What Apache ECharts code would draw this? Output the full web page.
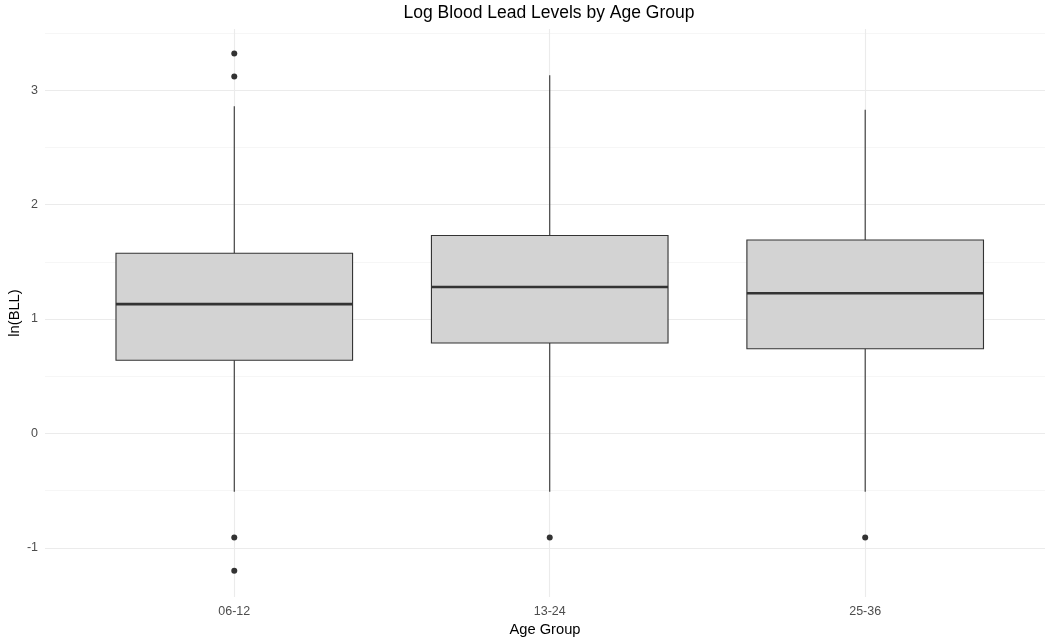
<!DOCTYPE html>
<html>
<head>
<meta charset="utf-8">
<script src="https://cdn.jsdelivr.net/npm/echarts@6/dist/echarts.min.js"></script>
<style>
  html, body { margin: 0; padding: 0; background: #fff; }
  #chart { width: 1045px; height: 640px; }
</style>
</head>
<body>
<div id="chart"></div>
<script>
  // age groups sit at x = 1, 2, 3 on a value axis so the panel can run edge to edge
  const groups = ['06-12', '13-24', '25-36']
  const lowerWhisker = [-0.51, -0.51, -0.51]
  const q1 = [0.64, 0.79, 0.74]
  const median = [1.13, 1.28, 1.225]
  const q3 = [1.575, 1.73, 1.69]
  const upperWhisker = [2.86, 3.13, 2.83]
  // outliers: [group position, value]
  const outliers = [
    [1, 3.32], [1, 3.12], [1, -0.91], [1, -1.20],
    [2, -0.91],
    [3, -0.91],
  ]
  const yMajorTicks = [-1, 0, 1, 2, 3]
  const yMinorTicks = [-0.5, 0.5, 1.5, 2.5, 3.5]

  const boxData = groups.map((g, i) => [
    i + 1, lowerWhisker[i], q1[i], median[i], q3[i], upperWhisker[i],
  ])

  const textFont = 'Liberation Sans, Arial, sans-serif'
  const ink = '#333333'

  const chart = echarts.init(document.getElementById('chart'))

  const option = {
    backgroundColor: '#ffffff',
    animation: false,
    title: {
      text: 'Log Blood Lead Levels by Age Group',
      left: 549,
      top: 4,
      padding: 0,
      textAlign: 'center',
      textStyle: {
        color: '#000000',
        fontFamily: textFont,
        fontWeight: 'normal',
        fontSize: 17.5,
      },
    },
    grid: {
      left: 45,
      right: 0,
      top: 29,
      bottom: 43,
      outerBoundsMode: 'none',
      containLabel: false,
    },
    xAxis: {
      type: 'value',
      min: 0.4,
      max: 3.57,
      name: 'Age Group',
      nameLocation: 'middle',
      nameGap: 24,
      nameTextStyle: {
        color: '#000000',
        fontFamily: textFont,
        fontSize: 14.7,
      },
      axisLine: { show: false },
      axisTick: { show: false, customValues: [1, 2, 3] },
      axisLabel: {
        customValues: [1, 2, 3],
        formatter: (v) => groups[Math.round(v) - 1],
        color: '#4D4D4D',
        fontFamily: textFont,
        fontSize: 12.5,
        margin: 8,
      },
      splitLine: {
        show: true,
        lineStyle: { color: '#EBEBEB', width: 1.1 },
      },
    },
    yAxis: [
      {
        type: 'value',
        min: -1.43,
        max: 3.535,
        name: 'ln(BLL)',
        nameLocation: 'middle',
        nameGap: 23,
        nameMoveOverlap: false,
        nameTextStyle: {
          color: '#000000',
          fontFamily: textFont,
          fontSize: 14.7,
        },
        axisLine: { show: false },
        axisTick: { show: false, customValues: yMajorTicks },
        axisLabel: {
          customValues: yMajorTicks,
          color: '#4D4D4D',
          fontFamily: textFont,
          fontSize: 12.5,
          margin: 7,
        },
        splitLine: {
          show: true,
          lineStyle: { color: '#EBEBEB', width: 1.1 },
        },
      },
      {
        // minor grid only
        type: 'value',
        position: 'left',
        min: -1.43,
        max: 3.535,
        axisLine: { show: false },
        axisTick: { show: false, customValues: yMinorTicks },
        axisLabel: { show: false, customValues: yMinorTicks },
        splitLine: {
          show: true,
          lineStyle: { color: '#F4F4F4', width: 0.8 },
        },
      },
    ],
    series: [
      {
        name: 'box',
        type: 'custom',
        yAxisIndex: 0,
        encode: { x: 0, y: [1, 2, 3, 4, 5] },
        data: boxData,
        renderItem(params, api) {
          const x = api.value(0)
          const halfW = api.size([0.75, 0])[0] / 2
          const pLo = api.coord([x, api.value(1)])
          const pQ1 = api.coord([x, api.value(2)])
          const pMed = api.coord([x, api.value(3)])
          const pQ3 = api.coord([x, api.value(4)])
          const pHi = api.coord([x, api.value(5)])
          const lineStyle = { stroke: ink, lineWidth: 1.1 }
          return {
            type: 'group',
            children: [
              {
                type: 'line',
                shape: { x1: pHi[0], y1: pHi[1], x2: pQ3[0], y2: pQ3[1] },
                style: lineStyle,
              },
              {
                type: 'line',
                shape: { x1: pQ1[0], y1: pQ1[1], x2: pLo[0], y2: pLo[1] },
                style: lineStyle,
              },
              {
                type: 'rect',
                shape: {
                  x: pQ3[0] - halfW,
                  y: pQ3[1],
                  width: halfW * 2,
                  height: pQ1[1] - pQ3[1],
                },
                style: { fill: '#D3D3D3', stroke: ink, lineWidth: 1.1 },
              },
              {
                type: 'line',
                shape: {
                  x1: pMed[0] - halfW, y1: pMed[1],
                  x2: pMed[0] + halfW, y2: pMed[1],
                },
                style: { stroke: ink, lineWidth: 2.6 },
              },
            ],
          }
        },
      },
      {
        name: 'outliers',
        type: 'scatter',
        yAxisIndex: 0,
        symbol: 'circle',
        symbolSize: 6,
        itemStyle: { color: ink, opacity: 1 },
        data: outliers,
        z: 3,
      },
    ],
  }

  chart.setOption(option)
</script>
</body>
</html>
